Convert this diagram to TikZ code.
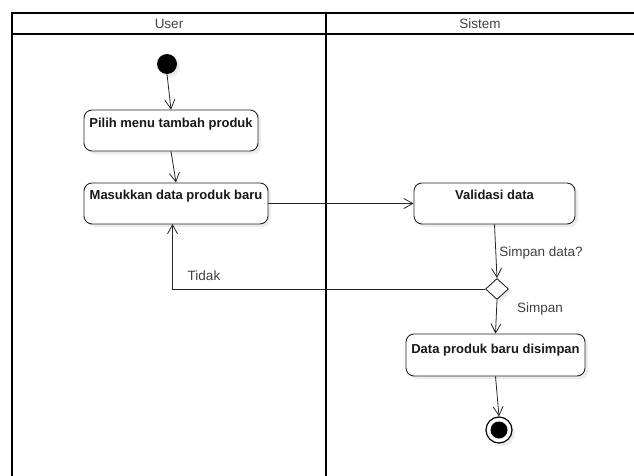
\documentclass[tikz,border=0pt]{standalone}
\usepackage{fontspec}
\setmainfont{Liberation Sans}
\usetikzlibrary{arrows.meta,shapes.geometric,shadows}
\begin{document}
\begin{tikzpicture}[x=1pt,y=-1pt,
  lane/.style={line width=2pt,draw=black},
  act/.style={draw=black!85,line width=0.9pt,rounded corners=8pt,fill=white,
    drop shadow={shadow xshift=3pt,shadow yshift=-3pt,fill=black!8,opacity=1},
    align=center,inner sep=0pt},
  acttext/.style={font=\bfseries\fontsize{13}{15}\selectfont,inner sep=0pt,text=black!90},
  flow/.style={draw=black!85,line width=0.8pt,-{Straight Barb[length=9pt,width=10pt,line width=0.8pt]}},
  lbl/.style={font=\fontsize{13.5}{15}\selectfont,text=black!75,inner sep=0pt},
  hdr/.style={font=\fontsize{13.5}{15}\selectfont,text=black!75,inner sep=0pt}]
\useasboundingbox (0,0) rectangle (634,476);
% swimlanes
\draw[lane] (12,476) -- (12,13) -- (634,13);
\draw[lane] (12,34) -- (634,34);
\draw[lane] (326,13) -- (326,476);
\node[hdr] (huser) at (169,23.5) {User};
\node[hdr] (hsis) at (480,23.5) {Sistem};
% start
\node[circle,fill=black,minimum size=20pt,inner sep=0pt,
  drop shadow={shadow xshift=3pt,shadow yshift=-3pt,fill=black!8,opacity=1}] (start) at (167,64) {};
% activities
\node[act,minimum width=174pt,minimum height=41pt] (a1) at (171,130.5) {};
\node[acttext] (t1) at (171,124) {Pilih menu tambah produk};
\node[act,minimum width=184pt,minimum height=41pt] (a2) at (176,203.5) {};
\node[acttext] (t2) at (176,196) {Masukkan data produk baru};
\node[act,minimum width=161pt,minimum height=41pt] (a3) at (494.5,203.5) {};
\node[acttext] (t3) at (494.5,195) {Validasi data};
\node[diamond,draw=black!85,line width=0.9pt,fill=white,minimum width=23pt,minimum height=21pt,inner sep=0pt,
  drop shadow={shadow xshift=3pt,shadow yshift=-3pt,fill=black!8,opacity=1}] (d) at (497,289) {};
\node[act,minimum width=179pt,minimum height=42pt] (a4) at (495.5,355) {};
\node[acttext] (t4) at (495.5,350) {Data produk baru disimpan};
% end
\node[circle,draw=black,line width=1.2pt,fill=white,minimum size=26pt,inner sep=0pt,
  drop shadow={shadow xshift=3pt,shadow yshift=-3pt,fill=black!8,opacity=1}] (end) at (499,430) {};
\node[circle,fill=black,minimum size=17pt,inner sep=0pt] (endin) at (end.center) {};
% connectors
\draw[flow] (start.south) -- (a1.north);
\draw[flow] (a1.south) -- (a2.north);
\draw[flow] (a2.east) -- (a3.west);
\draw[flow] (a3.south) -- (d.north);
\draw[flow] (d.west) -- (172.5,289) -- (172.5,224);
\draw[flow] (d.south) -- (a4.north);
\draw[flow] (a4.south) -- (end.north);
% labels
\node[lbl] (ltidak) at (204,276) {Tidak};
\node[lbl] (lsd) at (541,253) {Simpan data?};
\node[lbl] (lsimpan) at (540,309) {Simpan};
\end{tikzpicture}
\end{document}
